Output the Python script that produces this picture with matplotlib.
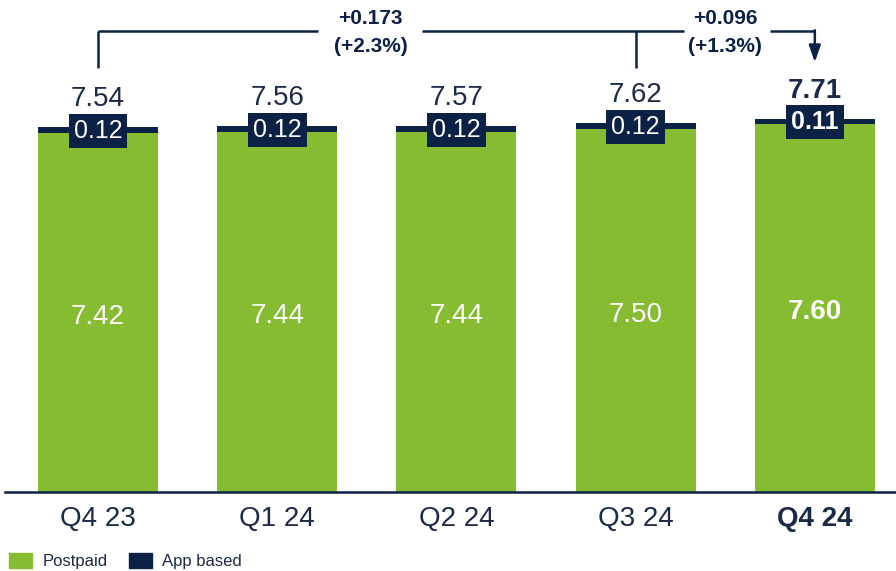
import matplotlib.pyplot as plt
from matplotlib.patches import Patch

plt.rcParams["font.family"] = ["Liberation Sans", "DejaVu Sans"]

quarters = ["Q4 23", "Q1 24", "Q2 24", "Q3 24", "Q4 24"]
postpaid = [7.42, 7.44, 7.44, 7.50, 7.60]
app_based = [0.12, 0.12, 0.12, 0.12, 0.11]
totals = [7.54, 7.56, 7.57, 7.62, 7.71]
yoy_delta = ["+0.173", "(+2.3%)"]
qoq_delta = ["+0.096", "(+1.3%)"]

GREEN = "#86BC31"
NAVY = "#0C2146"
TEXT = "#1B2A47"


def main():
    fig = plt.figure(figsize=(8.96, 5.71), dpi=100)
    ax = fig.add_axes([5 / 896, 79 / 571, 891 / 896, 484 / 571])

    x = list(range(len(quarters)))
    w = 0.67
    ax.bar(x, postpaid, width=w, color=GREEN)
    ax.bar(x, app_based, width=w, bottom=postpaid, color=NAVY)

    last = len(quarters) - 1
    for i in x:
        wt = "bold" if i == last else "normal"
        ax.text(i, postpaid[i] / 2 - 0.09, f"{postpaid[i]:.2f}", ha="center", va="center",
                color="white", fontsize=20, fontweight=wt)
        ax.text(i, postpaid[i] + app_based[i] / 2 - 0.02, f"{app_based[i]:.2f}", ha="center",
                va="center", color="white", fontsize=18, fontweight=wt,
                bbox=dict(boxstyle="square,pad=0.2", fc=NAVY, ec="none"))
        ax.text(i, totals[i] + 0.58, f"{totals[i]:.2f}", ha="center", va="center",
                color=TEXT, fontsize=20, fontweight=wt)

    # brackets on top
    y_line = 9.52
    y_drop = 8.76
    lk = dict(color=NAVY, lw=1.8, clip_on=False, solid_capstyle="butt")
    ax.plot([0, 0], [y_drop, y_line], **lk)
    ax.plot([0, 1.23], [y_line, y_line], **lk)
    ax.plot([1.81, 3.27], [y_line, y_line], **lk)
    ax.plot([3, 3], [y_drop, y_line], **lk)
    ax.plot([3.75, 4.0], [y_line, y_line], **lk)
    ax.annotate("", xy=(4, 8.88), xytext=(4, y_line + 0.02),
                arrowprops=dict(arrowstyle="-|>,head_width=0.35,head_length=1.0",
                                color=NAVY, lw=1.8, shrinkA=0, shrinkB=0))
    ax.text(1.52, 9.79, yoy_delta[0], ha="center", va="center", color=NAVY,
            fontsize=15, fontweight="bold")
    ax.text(1.52, 9.2, yoy_delta[1], ha="center", va="center", color=NAVY,
            fontsize=15, fontweight="bold")
    ax.text(3.5, 9.79, qoq_delta[0], ha="center", va="center", color=NAVY,
            fontsize=15, fontweight="bold")
    ax.text(3.5, 9.2, qoq_delta[1], ha="center", va="center", color=NAVY,
            fontsize=15, fontweight="bold")

    ax.set_xlim(-0.519, 4.453)
    ax.set_ylim(0, 10)
    ax.set_xticks(x)
    ax.set_xticklabels(quarters, fontsize=20, color=TEXT)
    ax.get_xticklabels()[last].set_fontweight("bold")
    ax.tick_params(axis="x", length=0, pad=10)
    ax.set_yticks([])
    for s in ["top", "left", "right"]:
        ax.spines[s].set_visible(False)
    ax.spines["bottom"].set_color(NAVY)
    ax.spines["bottom"].set_linewidth(1.8)

    handles = [Patch(color=GREEN, label="Postpaid"), Patch(color=NAVY, label="App based")]
    fig.legend(handles=handles, loc="lower left", bbox_to_anchor=(9 / 896, 2 / 571),
               ncol=2, frameon=False, fontsize=12, handlelength=1.4,
               handleheight=1.05, handletextpad=0.6, columnspacing=1.3,
               borderpad=0, borderaxespad=0, labelcolor=TEXT)

    fig.savefig("out.png", dpi=100)


if __name__ == "__main__":
    main()
